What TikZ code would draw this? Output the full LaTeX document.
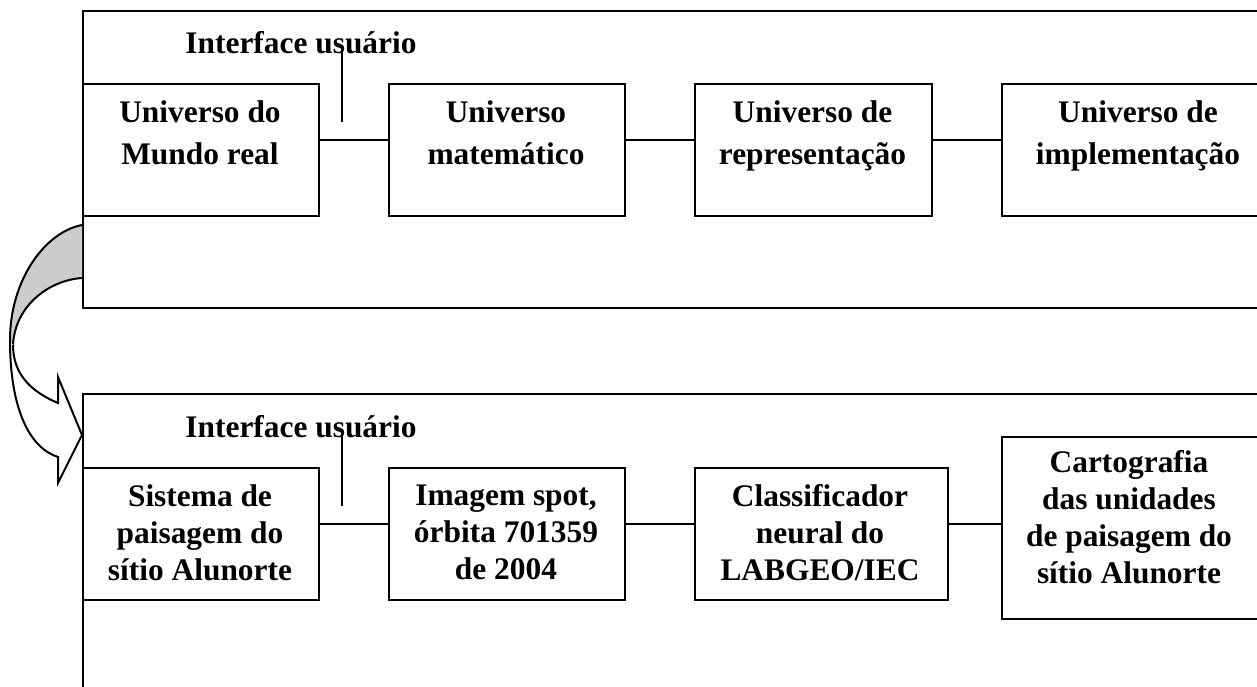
\documentclass[tikz,border=0pt]{standalone}
\usepackage{fontspec}
\setmainfont{Liberation Serif}
\usetikzlibrary{calc}
\newcommand{\mlines}[1]{\begin{tabular}[t]{@{}c@{}}#1\end{tabular}}
\begin{document}
\begin{tikzpicture}[x=0.5pt,y=-0.5pt,line width=1pt,
  framebox/.style={draw,rectangle,anchor=north west,inner sep=0pt},
  boxnode/.style={draw,fill=white,rectangle,anchor=north west,inner sep=0pt},
  lbltop/.style={anchor=base,inner sep=0pt,font=\fontsize{15.7}{21}\selectfont\bfseries},
  lblbot/.style={anchor=base,inner sep=0pt,font=\fontsize{15.7}{18.5}\selectfont\bfseries},
  conn/.style={draw,line width=1pt}]
\useasboundingbox (0,0) rectangle (1257,686);
\clip (0,0) rectangle (1257,686);
\fill[white] (0,0) rectangle (1257,686);

% frames
\node[framebox,minimum width=600pt,minimum height=148.5pt] (f1) at (82,10) {};
\node[framebox,minimum width=600pt,minimum height=163.5pt] (f2) at (82,393) {};

% top row boxes
\node[boxnode,minimum width=118pt,minimum height=66pt] (b1) at (82,83) {};
\node[boxnode,minimum width=118pt,minimum height=66pt] (b2) at (388,83) {};
\node[boxnode,minimum width=118.5pt,minimum height=66pt] (b3) at (694,83) {};
\node[boxnode,minimum width=140pt,minimum height=66pt] (b4) at (1001,83) {};

% bottom row boxes
\node[boxnode,minimum width=118pt,minimum height=66pt] (c1) at (82,467) {};
\node[boxnode,minimum width=118pt,minimum height=66pt] (c2) at (388,467) {};
\node[boxnode,minimum width=126.5pt,minimum height=66pt] (c3) at (694,467) {};
\node[boxnode,minimum width=140pt,minimum height=91pt] (c4) at (1001,436) {};

% connectors
\draw[conn] ([yshift=5pt]b1.east) -- ([yshift=5pt]b2.west);
\draw[conn] ([yshift=5pt]b2.east) -- ([yshift=5pt]b3.west);
\draw[conn] ([yshift=5pt]b3.east) -- ([yshift=5pt]b4.west);
\draw[conn] ([yshift=5pt]c1.east) -- ([yshift=5pt]c2.west);
\draw[conn] ([yshift=5pt]c2.east) -- ([yshift=5pt]c3.west);
\draw[conn] ([yshift=5pt]c3.east) -- ([yshift=5pt]c3.east -| c4.west);

% interface labels and their lines
\node[lbltop] (i1) at (301,53) {Interface usuário};
\node[lbltop] (i2) at (301,437) {Interface usuário};
\coordinate (v1a) at (342,49);
\coordinate (v1b) at (342,122);
\coordinate (v2a) at (342,433);
\coordinate (v2b) at (342,506);
\draw[conn] (v1a) -- (v1b);
\draw[conn] (v2a) -- (v2b);

% box texts
\node[lbltop] (t1) at (200,122) {\mlines{Universo do\\Mundo real}};
\node[lbltop] (t2) at (506,122) {\mlines{Universo\\matemático}};
\node[lbltop] (t3) at (812.5,122) {\mlines{Universo de\\representação}};
\node[lbltop] (t4) at (1138,122) {\mlines{Universo de\\implementação}};

\node[lblbot] (s1) at (200,506) {\mlines{Sistema de\\paisagem do\\sítio Alunorte}};
\node[lblbot] (s2) at (506,505) {\mlines{Imagem spot,\\órbita 701359\\de 2004}};
\node[lblbot] (s3) at (820,506) {\mlines{Classificador\\neural do\\LABGEO/IEC}};
\node[lblbot] (s4) at (1129,472) {\mlines{Cartografia\\das unidades\\de paisagem do\\sítio Alunorte}};

% curved arrow
\fill[black!20] (82,225) .. controls (45,232) and (10,280) .. (10,340)
  -- (13,345) .. controls (15,305) and (50,280) .. (82,278) -- cycle;
\draw (82,225) .. controls (45,232) and (10,280) .. (10,340);
\draw (82,278) .. controls (50,280) and (15,305) .. (13,345);
\filldraw[fill=white] (10,340) .. controls (10,410) and (30,448) .. (58,457)
  -- (58,483) -- (82,435) -- (58,377) -- (58,403)
  .. controls (32,392) and (13,375) .. (13,345);
\end{tikzpicture}
\end{document}
